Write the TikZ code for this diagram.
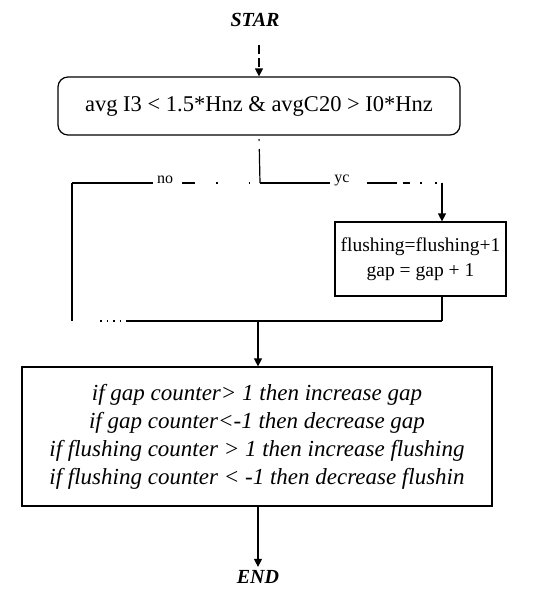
\documentclass[tikz,border=0pt]{standalone}
\usepackage{fontspec}
\setmainfont{Liberation Serif}
\usetikzlibrary{arrows.meta}
\tikzset{
  box/.style={draw, line width=1.2pt, align=center, inner sep=0pt},
  flow/.style={line width=1.2pt},
}
\begin{document}
\begin{tikzpicture}[x=1pt,y=-1pt,>={Triangle[length=8pt,width=8pt]}]
    \useasboundingbox (0,0) rectangle (541,590);
    \node[font=\fontsize{20}{22}\selectfont\bfseries\itshape] (start) at (255,20) {STAR};
    \node[box, rounded corners=10pt, minimum width=402pt, minimum height=58pt,
          font=\fontsize{22.5}{24}\selectfont] (cond) at (259,106)
        {avg I3 < 1.5*Hnz \& avgC20 > I0*Hnz};
    \node[box, minimum width=171pt, minimum height=74pt,
          font=\fontsize{19.5}{25}\selectfont] (upd) at (420.5,259)
        {flushing=flushing+1\\gap = gap + 1};
    \node[box, minimum width=470pt, minimum height=139pt,
          font=\fontsize{23}{28}\selectfont\itshape] (rules) at (257,436.5)
        {if gap counter> 1 then increase gap\\
         if gap counter<-1 then decrease gap\\
         if flushing counter > 1 then increase flushing\\
         if flushing counter < -1 then decrease flushin};
    \node[font=\fontsize{20}{22}\selectfont\bfseries\itshape] (end) at (258,577) {END};
    \coordinate (split) at (260,183);
    \coordinate (lft) at (72,183);
    \coordinate (rgt) at (442,183);
    \coordinate (lbot) at (72,321);
    \coordinate (dots) at (100,321);
    \coordinate (merge) at (258,321);
    \coordinate (rbot) at (442,321);
    \draw[flow,->,dash pattern=on 9pt off 4pt] (start.south -| cond.north) ++(0,15) -- (cond.north);
    \draw[flow,dash pattern=on 0pt off 4pt on 2pt off 8pt on 60pt] (cond.south |- split) ++(0,-48) -- (split);
    \draw[flow,dash pattern=on 81pt off 29pt on 13pt off 21pt on 1.5pt off 31pt on 1.5pt off 20pt] (lft) -- (split);
    \node[font=\fontsize{16}{17}\selectfont] (no) at (165,180) {no};
    \draw[flow,dash pattern=on 70pt off 37pt on 30pt off 6pt on 7pt off 10pt on 1.5pt off 13.5pt on 1.5pt off 5.5pt on 2pt] (split) -- (rgt);
    \node[font=\fontsize{16}{17}\selectfont] (yes) at (342,180) {yc};
    \draw[flow,->] (rgt) -- (upd.north -| rgt);
    \draw[flow] (lft) -- (lbot);
    \draw[flow] (upd.south -| rbot) -- (rbot);
    \draw[flow,dash pattern=on 1.5pt off 5pt on 1.5pt off 5pt on 1.5pt off 5pt on 1.5pt off 5pt on 400pt] (dots) -- (rbot);
    \draw[flow,->] (merge) -- (rules.north -| merge);
    \draw[flow,->] (rules.south -| merge) -- (end.north);
\end{tikzpicture}
\end{document}
